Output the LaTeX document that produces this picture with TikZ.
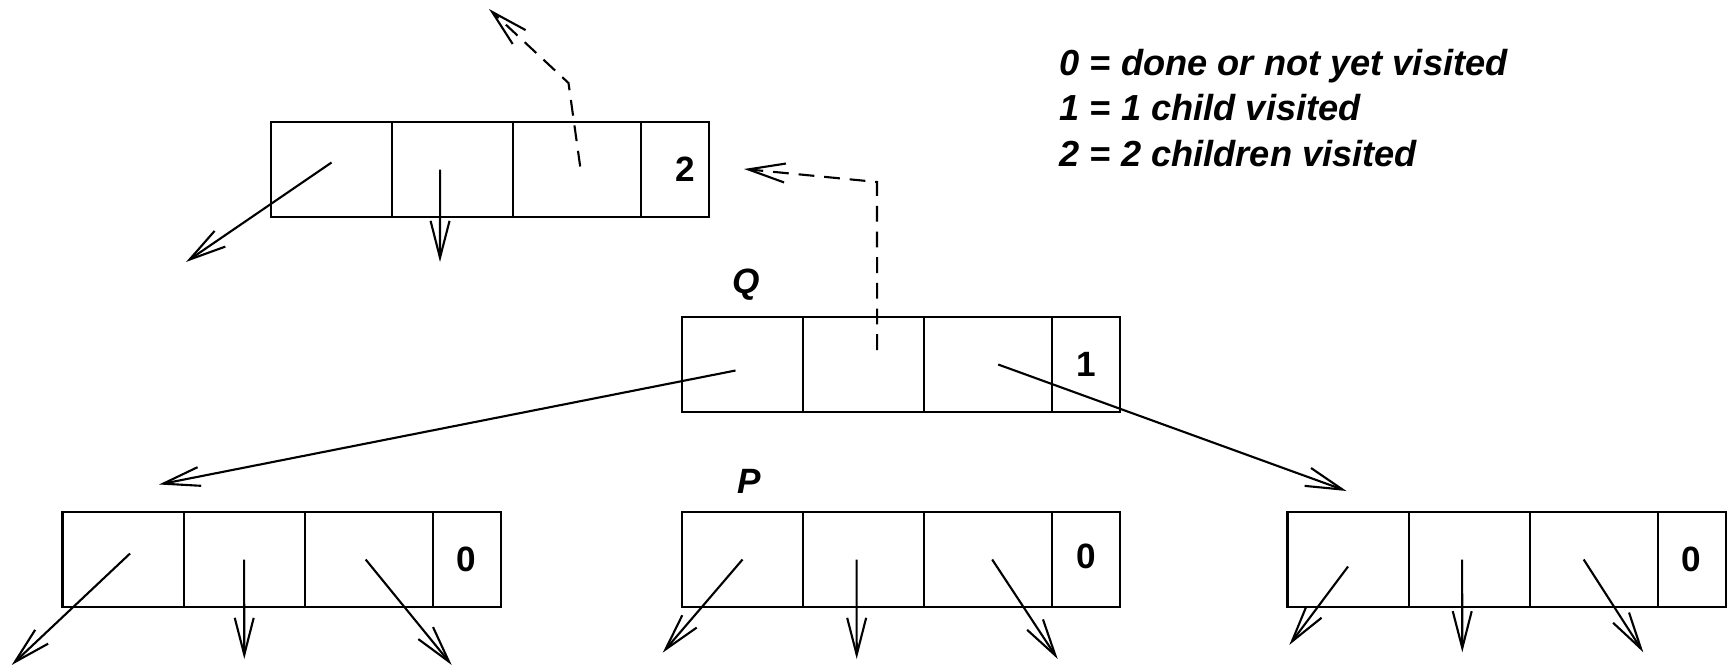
\documentclass[tikz,border=0pt]{standalone}
\usepackage{fontspec}
\setsansfont{Liberation Sans}
\usetikzlibrary{arrows.meta,positioning}
\tikzset{
  cell/.style={draw, line width=0.6pt, inner sep=0pt, outer sep=0pt,
               minimum width=1.21cm, minimum height=0.95cm},
  tagcell/.style={cell, minimum width=0.68cm,
                  font=\sffamily\bfseries\fontsize{10}{12}\selectfont},
  ptr/.style={-{Straight Barb[length=10.5pt, width=5.4pt]}, line width=0.6pt},
  back/.style={ptr, dash pattern=on 4.5pt off 2.8pt},
  nlab/.style={font=\sffamily\bfseries\itshape\fontsize{10}{12}\selectfont},
  legend/.style={font=\sffamily\bfseries\itshape\fontsize{10.3}{12.9}\selectfont,
                 align=left, inner sep=0pt},
}
% one tree record: left, middle, right pointer and the visit counter
\newcommand{\treerec}[3]{%
  \node[cell, anchor=north west] (#1-1) at (#2) {};
  \node[cell, right=0pt of #1-1] (#1-2) {};
  \node[cell, minimum width=1.28cm, right=0pt of #1-2] (#1-3) {};
  \node[tagcell, right=0pt of #1-3] (#1-4) {#3};
}

\begin{document}
\begin{tikzpicture}[x=0.01cm, y=0.01cm]
  \useasboundingbox (0,0) rectangle (1733,670);

  % records
  \treerec{gp}{271,548}{\hspace{0.2cm}2}
  \treerec{q}{682,353}{1}
  \treerec{lt}{62.5,158}{0}
  \treerec{p}{682,158}{\raisebox{0.07cm}{0}}
  \treerec{rt}{1287.5,158}{0}

  \node[nlab] (qlab) at (746,385) {Q};
  \node[nlab] (plab) at (749,189) {P};

  \node[legend, anchor=west] (key) at (1059,562)
    {0 = done or not yet visited\\ 1 = 1 child visited\\ 2 = 2 children visited};

  % free ends of the pointers
  \coordinate (gpA) at (186,408);   \coordinate (gpB) at (440,408);
  \coordinate (gpM) at (568.5,587); \coordinate (gpU) at (489,661);
  \coordinate (qA) at (159,185.5);  \coordinate (qC) at (1346.5,179);
  \coordinate (qM) at (877,488);    \coordinate (qU) at (744,501);
  \coordinate (ltA) at (11.7,5);    \coordinate (ltB) at (244.3,11);    \coordinate (ltC) at (451.7,5);
  \coordinate (pA) at (662.7,17.3); \coordinate (pB) at (856.7,11);     \coordinate (pC) at (1057.7,11);
  \coordinate (rtA) at (1289.3,25); \coordinate (rtB) at (1462.3,17.7); \coordinate (rtC) at (1643.3,17.7);

  % child pointers
  \draw[ptr] ([shift={(0,7)}]gp-1.center) -- (gpA);
  \draw[ptr] ([shift={(-12.5,0)}]gp-2.center) -- (gpB);
  \draw[ptr] ([shift={(-7,-6)}]q-1.center) -- (qA);
  \draw[ptr] ([shift={(10,0)}]q-3.center) -- (qC);
  \draw[ptr] ([shift={(7,6)}]lt-1.center) -- (ltA);
  \draw[ptr] (lt-2.center) -- (ltB);
  \draw[ptr] ([shift={(-3,0)}]lt-3.center) -- (ltC);
  \draw[ptr] (p-1.center) -- (pA);
  \draw[ptr] ([shift={(-7,0)}]p-2.center) -- (pB);
  \draw[ptr] ([shift={(4,0)}]p-3.center) -- (pC);
  \draw[ptr] ([shift={(0,-7)}]rt-1.center) -- (rtA);
  \draw[ptr] ([shift={(-7,0)}]rt-2.center) -- (rtB);
  \draw[ptr] ([shift={(-10,0)}]rt-3.center) -- (rtC);

  % parent pointers, reversed during the walk
  \draw[back] ([shift={(3,3)}]gp-3.center) -- (gpM) -- (gpU);
  \draw[back] ([shift={(13.5,14.5)}]q-2.center) -- (qM) -- (qU);
\end{tikzpicture}
\end{document}
